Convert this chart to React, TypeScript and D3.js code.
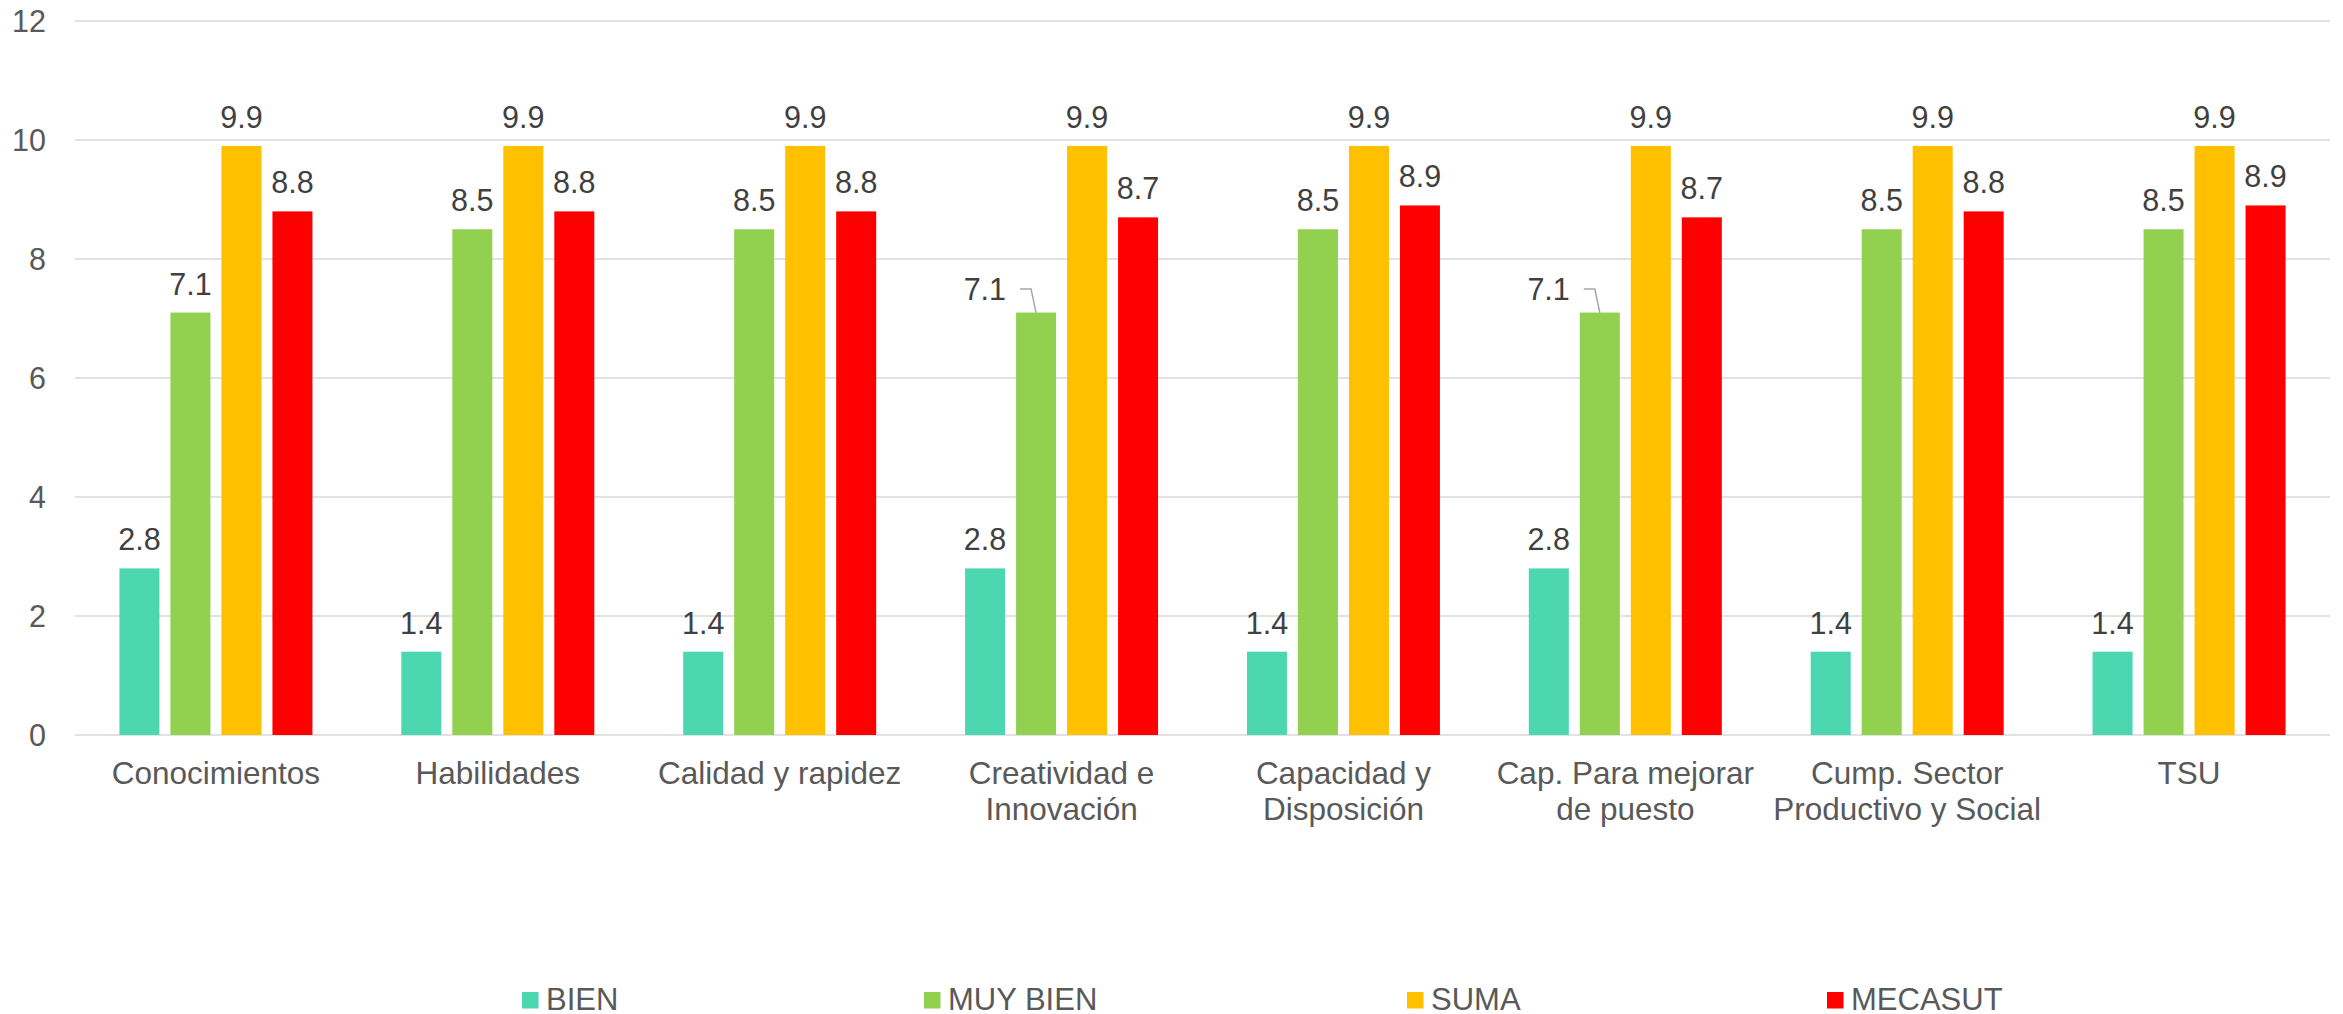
import React from "react";
import * as d3 from "d3";

const categories = [
  "Conocimientos",
  "Habilidades",
  "Calidad y rapidez",
  "Creatividad e\nInnovación",
  "Capacidad y\nDisposición",
  "Cap. Para mejorar\nde puesto",
  "Cump. Sector\nProductivo y Social",
  "TSU",
];
const seriesNames = ["BIEN", "MUY BIEN", "SUMA", "MECASUT"];
const bien = [2.8, 1.4, 1.4, 2.8, 1.4, 2.8, 1.4, 1.4];
const muyBien = [7.1, 8.5, 8.5, 7.1, 8.5, 7.1, 8.5, 8.5];
const suma = [9.9, 9.9, 9.9, 9.9, 9.9, 9.9, 9.9, 9.9];
const mecasut = [8.8, 8.8, 8.8, 8.7, 8.9, 8.7, 8.8, 8.9];
const yTicks = [0, 2, 4, 6, 8, 10, 12];
const colors = ["#4CD7B1", "#92D050", "#FFC000", "#FF0000"];
// labels moved to the left with a leader line: [series index, category index]
const movedLabels = [
  [1, 3],
  [1, 5],
];

const W = 2343;
const H = 1014;
const FONT = "'Liberation Sans', Arial, sans-serif";

export default function App() {
  const seriesValues = [bien, muyBien, suma, mecasut];
  const x0 = d3.scaleBand<string>().domain(categories).range([75, 2330]).padding(0);
  const groupWidth = 193;
  const x1 = d3
    .scaleBand<string>()
    .domain(seriesNames)
    .range([0, groupWidth])
    .paddingInner(11 / 51)
    .paddingOuter(0);
  const y = d3.scaleLinear().domain([0, 12]).range([735, 21]);
  const groupOffset = (x0.bandwidth() - groupWidth) / 2;
  const bw = x1.bandwidth();

  const legendX = [522, 924, 1407, 1827];

  return (
    <svg
      width={W}
      height={H}
      style={{ position: "absolute", left: 0, top: 0, background: "#fff" }}
      fontFamily={FONT}
    >
      {yTicks.map((t) => (
        <g key={t}>
          <line x1={75} x2={2330} y1={y(t)} y2={y(t)} stroke="#D9D9D9" strokeWidth={1.5} />
          <text x={46} y={y(t) + 10.5} textAnchor="end" fontSize={30.5} fill="#595959">
            {t}
          </text>
        </g>
      ))}
      {categories.map((c, ci) => {
        const gx = (x0(c) as number) + groupOffset;
        return (
          <g key={c}>
            {seriesNames.map((s, si) => {
              const v = seriesValues[si][ci];
              const bx = gx + (x1(s) as number);
              const cx = bx + bw / 2;
              const top = y(v);
              const moved = movedLabels.some((m) => m[0] === si && m[1] === ci);
              return (
                <g key={s}>
                  <rect x={bx} y={top} width={bw} height={y(0) - top} fill={colors[si]} />
                  {moved ? (
                    <g>
                      <text
                        x={cx - 30}
                        y={top - 12.5}
                        textAnchor="end"
                        fontSize={30.5}
                        fill="#404040"
                      >
                        {v.toFixed(1)}
                      </text>
                      <polyline
                        points={`${cx - 16},${top - 23.5} ${cx - 5},${top - 23.5} ${cx},${top}`}
                        fill="none"
                        stroke="#A6A6A6"
                        strokeWidth={1.5}
                      />
                    </g>
                  ) : (
                    <text x={cx} y={top - 18} textAnchor="middle" fontSize={30.5} fill="#404040">
                      {v.toFixed(1)}
                    </text>
                  )}
                </g>
              );
            })}
            <text
              x={(x0(c) as number) + x0.bandwidth() / 2}
              y={784}
              textAnchor="middle"
              fontSize={31.5}
              fill="#595959"
            >
              {c.split("\n").map((line, li) => (
                <tspan key={li} x={(x0(c) as number) + x0.bandwidth() / 2} dy={li === 0 ? 0 : 36}>
                  {line}
                </tspan>
              ))}
            </text>
          </g>
        );
      })}
      {seriesNames.map((s, si) => (
        <g key={s}>
          <rect x={legendX[si]} y={992} width={16.5} height={16.5} fill={colors[si]} />
          <text x={legendX[si] + 24} y={1010} fontSize={31} fill="#595959">
            {s}
          </text>
        </g>
      ))}
    </svg>
  );
}
